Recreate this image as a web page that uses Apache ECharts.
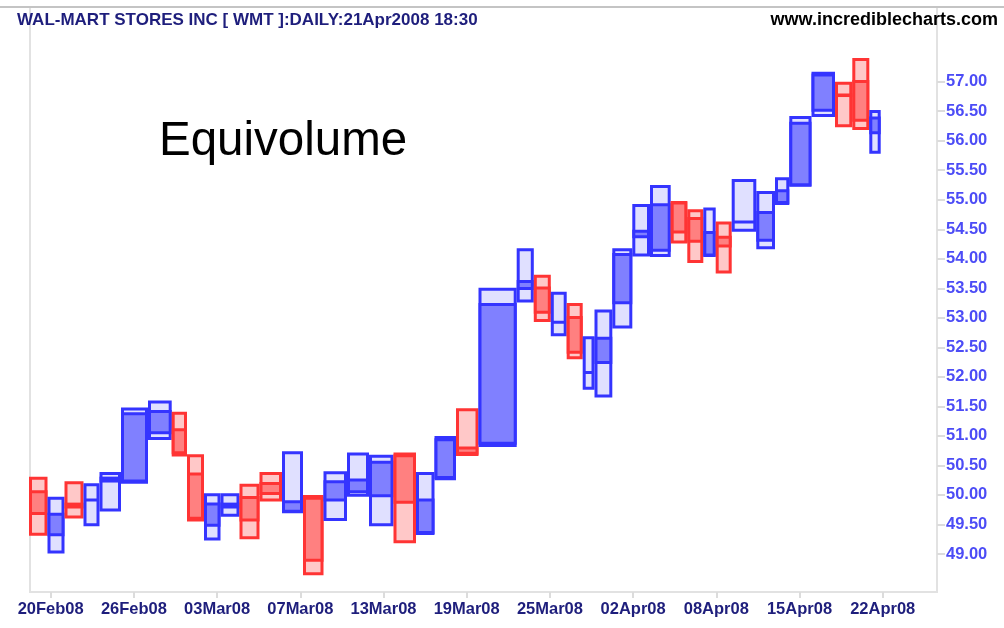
<!DOCTYPE html>
<html>
<head>
<meta charset="utf-8">
<title>WMT Equivolume</title>
<script src="https://cdn.jsdelivr.net/npm/echarts@6/dist/echarts.min.js"></script>
<style>
  html, body { margin: 0; padding: 0; background: #fff; }
  #chart { width: 1004px; height: 628px; }
</style>
</head>
<body>
<div id="chart"></div>
<script>
// daily bars, 19Feb08 - 21Apr08 (volume in millions sets the box width)
var dates = ['19Feb08','20Feb08','21Feb08','22Feb08','25Feb08','26Feb08','27Feb08','28Feb08','29Feb08','03Mar08',
  '04Mar08','05Mar08','06Mar08','07Mar08','10Mar08','11Mar08','12Mar08','13Mar08','14Mar08','17Mar08',
  '18Mar08','19Mar08','20Mar08','24Mar08','25Mar08','26Mar08','27Mar08','28Mar08','31Mar08','01Apr08',
  '02Apr08','03Apr08','04Apr08','07Apr08','08Apr08','09Apr08','10Apr08','11Apr08','14Apr08','15Apr08',
  '16Apr08','17Apr08','18Apr08','21Apr08'];
var volumes = [18.5,17.0,19.0,16.0,21.5,27.0,23.7,15.3,17.0,16.5,
  19.0,20.0,22.5,21.0,20.5,23.5,22.0,24.5,22.5,18.5,
  21.5,22.5,38.2,17.1,17.0,15.9,16.0,11.8,17.8,20.0,
  17.7,20.7,16.6,16.0,12.4,16.0,24.6,18.7,14.3,22.2,
  23.5,17.3,17.0,11.4];
var opens = [50.08,49.30,49.87,49.92,50.21,50.21,51.03,51.13,50.38,49.46,
  49.77,49.98,50.22,49.70,49.97,49.89,50.03,49.96,50.69,49.34,
  50.27,50.82,50.85,53.47,53.53,52.92,53.03,52.07,52.22,53.23,
  54.35,54.12,54.97,54.71,54.04,54.39,54.61,54.29,54.93,55.23,
  56.49,56.80,57.03,56.11];
var closes = [49.66,49.70,49.77,49.94,50.31,51.40,51.44,50.69,49.58,49.87,
  49.87,49.55,50.00,49.91,48.87,50.25,50.28,50.58,49.85,49.94,
  50.96,50.68,53.25,53.64,53.07,52.95,52.39,52.10,52.68,54.10,
  54.49,54.94,54.43,54.27,54.47,54.19,54.65,54.81,55.18,56.32,
  57.14,56.74,56.32,56.41];
var lows = [49.31,49.01,49.60,49.47,49.72,50.19,50.93,50.65,49.55,49.23,
  49.63,49.25,49.89,49.69,48.64,49.56,49.97,49.47,49.18,49.32,
  50.25,50.66,50.81,53.26,52.93,52.69,52.30,51.78,51.65,52.82,
  54.04,54.03,54.26,53.93,54.03,53.75,54.46,54.16,54.91,55.22,
  56.40,56.23,56.18,55.78];
var highs = [50.31,49.97,50.23,50.20,50.39,51.48,51.60,51.41,50.69,50.03,
  50.03,50.19,50.39,50.74,50.00,50.40,50.72,50.68,50.72,50.39,
  51.00,51.47,53.51,54.18,53.73,53.44,53.25,52.69,53.14,54.18,
  54.93,55.25,54.98,54.84,54.87,54.63,55.35,55.15,55.38,56.42,
  57.17,57.00,57.40,56.52];

var dateTicks = ['20Feb08','26Feb08','03Mar08','07Mar08','13Mar08','19Mar08','25Mar08','02Apr08','08Apr08','15Apr08','22Apr08'];
var priceTicks = [49.0,49.5,50.0,50.5,51.0,51.5,52.0,52.5,53.0,53.5,54.0,54.5,55.0,55.5,56.0,56.5,57.0];

// date ticks sit at a fixed spacing along the cumulative volume axis
var TICK0 = 21.7, TICK_STEP = 83.2;
var tickVols = dateTicks.map(function (d, i) { return TICK0 + i * TICK_STEP; });

var UP = { line: '#3434ff', body: '#8080ff', range: '#e0e0ff' };
var DOWN = { line: '#ff3434', body: '#ff8080', range: '#ffc8c8' };

var boxes = [];
var cum = 0;
for (var i = 0; i < dates.length; i++) {
  boxes.push({ name: dates[i], value: [cum, cum + volumes[i], opens[i], closes[i], lows[i], highs[i]] });
  cum += volumes[i];
}

var FONT = '"Liberation Sans", Arial, sans-serif';

var chart = echarts.init(document.getElementById('chart'));
chart.setOption({
  animation: false,
  backgroundColor: '#fff',
  grid: {
    left: 30, right: 67, top: 7, bottom: 36,
    show: true, borderColor: '#e2e2e2', borderWidth: 2
  },
  graphic: [
    { type: 'line', shape: { x1: 0, y1: 7, x2: 1004, y2: 7 }, style: { stroke: '#c4c4c4', lineWidth: 2 }, z: 1 },
    { type: 'text', x: 17, y: 20, style: { text: 'WAL-MART STORES INC [ WMT ]:DAILY:21Apr2008 18:30', font: 'bold 17px ' + FONT, fill: '#1e1e7c', verticalAlign: 'middle' }, z: 10 },
    { type: 'text', x: 998, y: 20, style: { text: 'www.incrediblecharts.com', font: 'bold 18px ' + FONT, fill: '#000', align: 'right', verticalAlign: 'middle' }, z: 10 },
    { type: 'text', x: 159, y: 142, style: { text: 'Equivolume', font: '47.5px ' + FONT, fill: '#000', verticalAlign: 'middle' }, z: 10 }
  ],
  xAxis: {
    type: 'value',
    min: 1, max: 908,
    splitLine: { show: false },
    axisLine: { show: true, lineStyle: { color: '#e2e2e2', width: 2 } },
    axisTick: { show: true, length: 6, customValues: tickVols, lineStyle: { color: '#dcdcdc', width: 2 } },
    axisLabel: {
      customValues: tickVols,
      margin: 9,
      color: '#1e1e7c',
      fontFamily: FONT, fontWeight: 'bold', fontSize: 16.5,
      formatter: function (v) { return dateTicks[Math.round((v - TICK0) / TICK_STEP)] || ''; }
    }
  },
  yAxis: {
    type: 'value',
    position: 'right',
    min: 48.356, max: 58.265,
    splitLine: { show: false },
    axisLine: { show: true, lineStyle: { color: '#e2e2e2', width: 2 } },
    axisTick: { show: true, length: 8, customValues: priceTicks, lineStyle: { color: '#dcdcdc', width: 2 } },
    axisLabel: {
      customValues: priceTicks,
      margin: 9,
      color: '#4c4cf6',
      fontFamily: FONT, fontWeight: 'bold', fontSize: 16.5,
      formatter: function (v) { return v.toFixed(2); }
    }
  },
  series: [{
    type: 'custom',
    data: boxes,
    encode: { x: [0, 1], y: [2, 3, 4, 5] },
    renderItem: function (params, api) {
      var x0 = api.value(0), x1 = api.value(1);
      var o = api.value(2), c = api.value(3), lo = api.value(4), hi = api.value(5);
      var pal = c >= o ? UP : DOWN;
      var lw = 3, h = lw / 2;
      var tl = api.coord([x0, hi]), br = api.coord([x1, lo]);
      var bt = api.coord([x0, Math.max(o, c)]), bb = api.coord([x1, Math.min(o, c)]);
      var w = br[0] - tl[0] - lw;
      return {
        type: 'group',
        children: [
          { type: 'rect', shape: { x: tl[0] + h, y: tl[1] + h, width: w, height: Math.max(br[1] - tl[1] - lw, 0) },
            style: { fill: pal.range, stroke: pal.line, lineWidth: lw } },
          { type: 'rect', shape: { x: tl[0] + h, y: bt[1] + h, width: w, height: Math.max(bb[1] - bt[1] - lw, 0) },
            style: { fill: pal.body, stroke: pal.line, lineWidth: lw } }
        ]
      };
    }
  }]
});
</script>
</body>
</html>
